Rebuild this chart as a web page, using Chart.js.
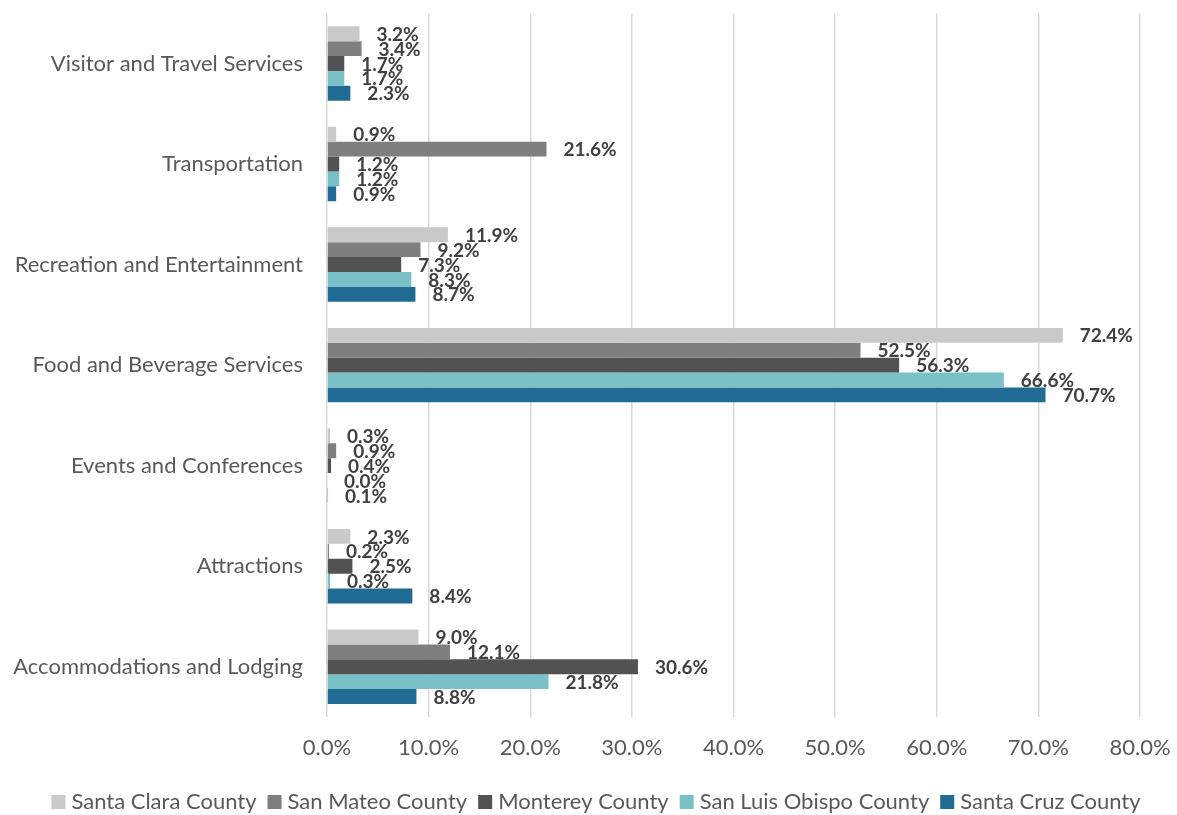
<!DOCTYPE html>
<html>
<head>
<meta charset="utf-8">
<script src="https://cdn.jsdelivr.net/npm/chart.js@4"></script>
<style>
  html, body { margin: 0; padding: 0; background: #fff; }
  #wrap { width: 1177px; height: 815px; }
</style>
</head>
<body>
<div id="wrap"><canvas id="myChart"></canvas></div>
<script>
// categories, top to bottom
const categories = [
  'Visitor and Travel Services',
  'Transportation',
  'Recreation and Entertainment',
  'Food and Beverage Services',
  'Events and Conferences',
  'Attractions',
  'Accommodations and Lodging'
];

// series values (percent)
const santaClara    = [3.2, 0.9, 11.9, 72.4, 0.3, 2.3, 9.0];
const sanMateo      = [3.4, 21.6, 9.2, 52.5, 0.9, 0.2, 12.1];
const monterey      = [1.7, 1.2, 7.3, 56.3, 0.4, 2.5, 30.6];
const sanLuisObispo = [1.7, 1.2, 8.3, 66.6, 0.0, 0.3, 21.8];
const santaCruz     = [2.3, 0.9, 8.7, 70.7, 0.1, 8.4, 8.8];

const seriesNames = ['Santa Clara County', 'San Mateo County', 'Monterey County', 'San Luis Obispo County', 'Santa Cruz County'];
const xTicks = [0, 10, 20, 30, 40, 50, 60, 70, 80];

const FONT = 'Lato, "Open Sans", sans-serif';
const TEXT = '#595959';

// value next to each bar
const valueLabels = {
  id: 'valueLabels',
  afterDatasetsDraw(chart) {
    const ctx = chart.ctx;
    ctx.save();
    ctx.font = 'bold 19px ' + FONT;
    ctx.fillStyle = '#404040';
    ctx.textAlign = 'left';
    ctx.textBaseline = 'middle';
    chart.data.datasets.forEach((ds, i) => {
      chart.getDatasetMeta(i).data.forEach((bar, j) => {
        ctx.fillText(ds.data[j].toFixed(1) + '%', bar.x + 17, bar.y + 1);
      });
    });
    ctx.restore();
  }
};

// legend along the bottom, drawn by hand so spacing matches
const bottomLegend = {
  id: 'bottomLegend',
  afterDraw(chart) {
    const ctx = chart.ctx;
    ctx.save();
    ctx.font = '22px ' + FONT;
    ctx.textBaseline = 'middle';
    ctx.textAlign = 'left';
    const box = 14, gap = 6, space = 11;
    const items = chart.data.datasets.map(ds => ({ text: ds.label, color: ds.backgroundColor, w: ctx.measureText(ds.label).width }));
    let total = items.reduce((s, it) => s + box + gap + it.w, 0) + space * (items.length - 1);
    let x = 596 - total / 2;
    const y = 802;
    items.forEach(it => {
      ctx.fillStyle = it.color;
      ctx.fillRect(x, y - 7, box, box);
      ctx.fillStyle = TEXT;
      ctx.fillText(it.text, x + box + gap, y);
      x += box + gap + it.w + space;
    });
    ctx.restore();
  }
};

const ctx = document.getElementById('myChart').getContext('2d');
const chart = new Chart(ctx, {
  type: 'bar',
  data: {
    labels: categories,
    datasets: [
      { label: seriesNames[0], data: santaClara, backgroundColor: '#C9C9C9' },
      { label: seriesNames[1], data: sanMateo, backgroundColor: '#7F7F7F' },
      { label: seriesNames[2], data: monterey, backgroundColor: '#525252' },
      { label: seriesNames[3], data: sanLuisObispo, backgroundColor: '#79C0C7' },
      { label: seriesNames[4], data: santaCruz, backgroundColor: '#1F6B94' }
    ]
  },
  options: {
    indexAxis: 'y',
    responsive: true,
    maintainAspectRatio: false,
    animation: false,
    datasets: { bar: { categoryPercentage: 0.74, barPercentage: 1.0, borderWidth: 0 } },
    layout: { padding: { top: 12, right: 37, left: 0, bottom: 0 } },
    plugins: {
      tooltip: { enabled: false },
      legend: { display: false }
    },
    scales: {
      x: {
        min: 0,
        max: 80,
        afterBuildTicks(scale) { scale.ticks = xTicks.map(v => ({ value: v })); },
        afterFit(scale) { scale.height = 98; },
        ticks: {
          color: TEXT,
          font: { family: FONT, size: 22 },
          padding: 0,
          maxRotation: 0,
          callback: v => v.toFixed(1) + '%'
        },
        grid: { color: '#D9D9D9', lineWidth: 1.5, drawTicks: true, tickLength: 18, tickColor: 'rgba(0,0,0,0)' },
        border: { display: false }
      },
      y: {
        afterFit(scale) { scale.width = 327; },
        ticks: {
          color: TEXT,
          font: { family: FONT, size: 22 },
          padding: 0
        },
        grid: { display: true, drawOnChartArea: false, drawTicks: true, tickLength: 24, color: 'rgba(0,0,0,0)' },
        border: { display: false }
      }
    }
  },
  plugins: [valueLabels, bottomLegend]
});
</script>
</body>
</html>
